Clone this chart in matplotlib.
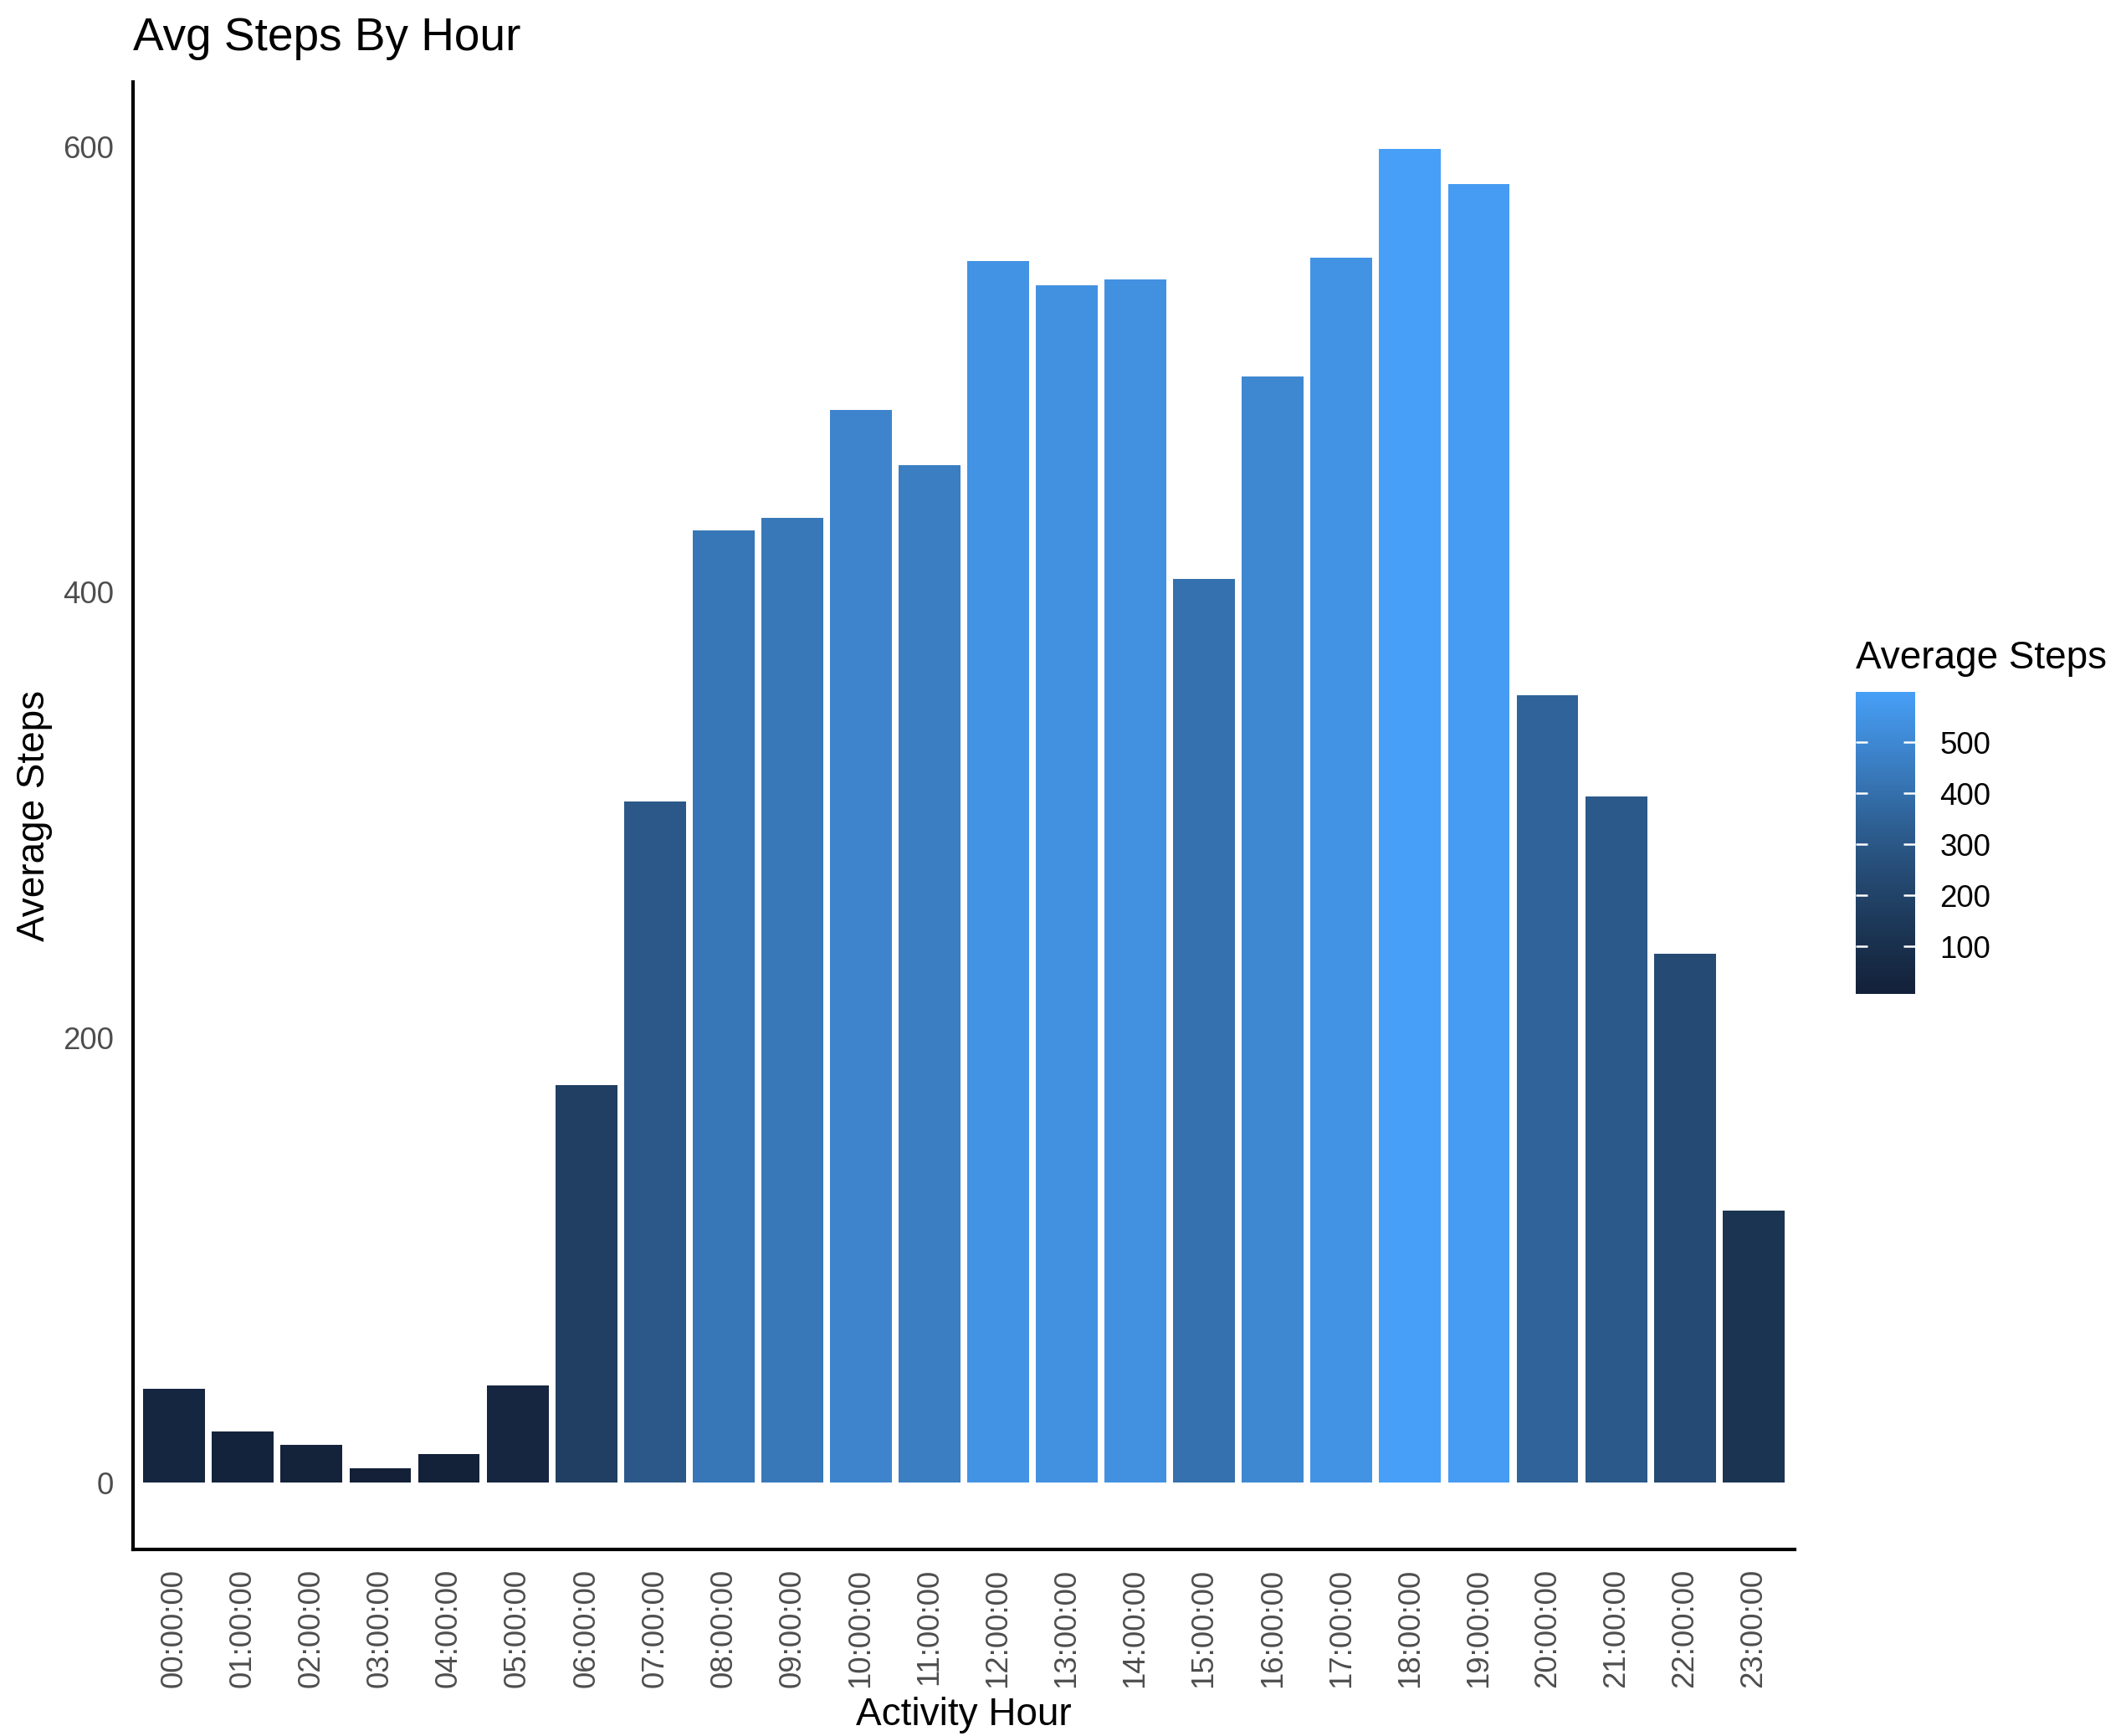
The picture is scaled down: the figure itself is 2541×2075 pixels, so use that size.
import matplotlib
matplotlib.use("Agg")
import matplotlib.pyplot as plt
from matplotlib.colors import LinearSegmentedColormap, Normalize
from matplotlib.cm import ScalarMappable

# ---------- data ----------
hours = [f"{h:02d}:00:00" for h in range(24)]
avg_steps = [42.19, 23.10, 17.11, 6.43, 12.70, 43.87, 178.51, 306.05,
             427.54, 433.30, 481.67, 456.89, 548.64, 537.70, 540.51, 406.02,
             496.85, 550.23, 599.17, 583.39, 353.63, 308.26, 237.57, 122.13]
legend_ticks = [100, 200, 300, 400, 500]

# ---------- style ----------
plt.rcParams["font.family"] = ["Liberation Sans", "DejaVu Sans"]
W, H = 2541, 2075
DPI = 300
TICK_COL = "#4D4D4D"

cmap = LinearSegmentedColormap.from_list(
    "gg_blues",
    [(0.0, "#132038"), (0.195, "#1B3452"), (0.39, "#254A73"),
     (0.55, "#2D5E91"), (0.75, "#3A7CC0"), (1.0, "#479FF7")])
norm = Normalize(vmin=min(avg_steps), vmax=max(avg_steps))

fig = plt.figure(figsize=(W / DPI, H / DPI), dpi=DPI)
ax = fig.add_axes([159 / W, 1 - 1852 / H, (2145 - 159) / W, (1852 - 98) / H])

x = list(range(len(hours)))
ax.bar(x, avg_steps, width=0.9, color=[cmap(norm(v)) for v in avg_steps])

ymax = max(avg_steps)
ax.set_ylim(-0.05 * ymax, 1.05 * ymax)
ax.set_xlim(-0.6, len(hours) - 0.4)
ax.set_yticks([0, 200, 400, 600])
ax.set_xticks(x)
ax.set_xticklabels(hours, rotation=90, va="top", ha="center")

for side in ("top", "right"):
    ax.spines[side].set_visible(False)
for side in ("left", "bottom"):
    ax.spines[side].set_linewidth(1.0)
    ax.spines[side].set_color("black")

ax.tick_params(axis="both", length=0, labelsize=8.8, labelcolor=TICK_COL)
ax.tick_params(axis="y", pad=5.5)
ax.tick_params(axis="x", pad=5.5)

# titles
fig.text(159 / W, 1 - 46 / H, "Avg Steps By Hour", fontsize=13.2,
         ha="left", va="center")
fig.text((159 + 2145) / 2 / W, 1 - 2050 / H, "Activity Hour", fontsize=11,
         ha="center", va="center")
fig.text(41 / W, 1 - 975 / H, "Average Steps", fontsize=11, rotation=90,
         ha="center", va="center")

# ---------- colour bar legend ----------
cax = fig.add_axes([2218 / W, 1 - 1188 / H, 71 / W, 361 / H])
sm = ScalarMappable(norm=norm, cmap=cmap)
cb = fig.colorbar(sm, cax=cax)
cb.outline.set_visible(False)
cb.set_ticks(legend_ticks)
cax.tick_params(axis="y", direction="in", color="white", length=3.4,
                width=0.6, left=True, right=True, labelsize=8.8,
                labelcolor="black", pad=7)
fig.text(2218 / W, 1 - 787 / H, "Average Steps", fontsize=11,
         ha="left", va="center")

fig.savefig("out.png", dpi=DPI)
